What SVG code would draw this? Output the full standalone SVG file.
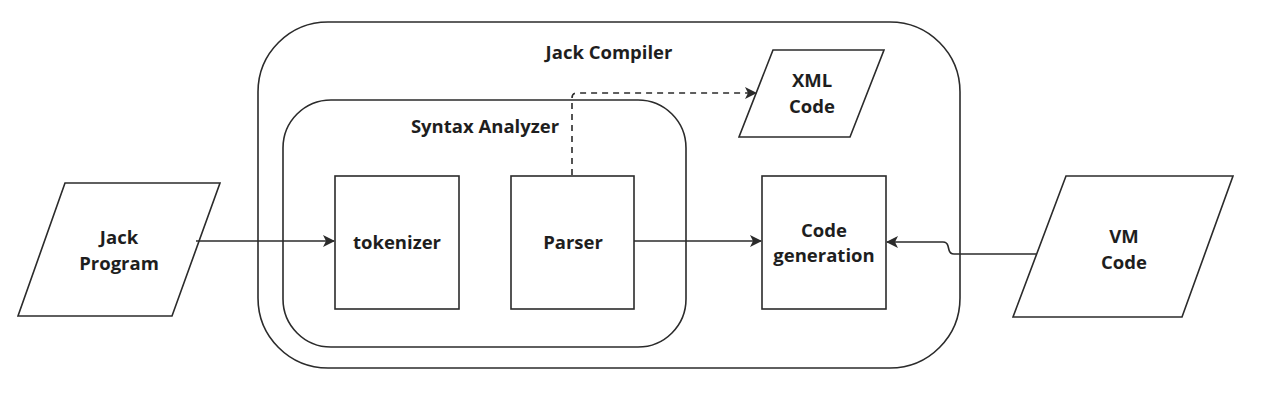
<svg xmlns="http://www.w3.org/2000/svg" width="1261" height="410" viewBox="0 0 1261 410">
<defs>
<style>
.s{fill:none;stroke:#2b2b2b;stroke-width:1.6}
.n{fill:#fff;stroke:#2b2b2b;stroke-width:1.6}
.t{font-family:"Open Sans","Noto Sans",sans-serif;font-weight:700;font-size:18.5px;fill:#1e1e1e;text-anchor:middle}
.c{fill:none;stroke:#2b2b2b;stroke-width:1.6}
.d{stroke-dasharray:6 5}
</style>
<marker id="ah" viewBox="0 0 12 12" refX="11" refY="6" markerWidth="12" markerHeight="12" markerUnits="userSpaceOnUse" orient="auto">
<path d="M0,0 L12,6 L0,12 L3,6 Z" fill="#2b2b2b"/>
</marker>
</defs>
<rect width="1261" height="410" fill="#fff"/>
<g id="jack-compiler">
<rect class="n" x="258" y="22" width="702" height="346" rx="70" ry="70"/>
<text class="t" x="609" y="59">Jack Compiler</text>
</g>
<g id="syntax-analyzer">
<rect class="n" x="283" y="100" width="403" height="247" rx="48" ry="48"/>
<text class="t" x="485" y="133">Syntax Analyzer</text>
</g>
<g id="tokenizer">
<rect class="n" x="335" y="176" width="124" height="133"/>
<text class="t" x="397" y="249">tokenizer</text>
</g>
<g id="parser">
<rect class="n" x="511" y="176" width="123" height="133"/>
<text class="t" x="573" y="249">Parser</text>
</g>
<g id="code-generation">
<rect class="n" x="762" y="176" width="124" height="133"/>
<text class="t" x="824" y="237">Code</text>
<text class="t" x="824" y="262">generation</text>
</g>
<g id="jack-program">
<polygon class="n" points="65,183 220,183 172,316 18,316"/>
<text class="t" x="119" y="244">Jack</text>
<text class="t" x="119" y="270">Program</text>
</g>
<g id="xml-code">
<polygon class="n" points="773,50 884,50 850,137 739,137"/>
<text class="t" x="812" y="87">XML</text>
<text class="t" x="812" y="113">Code</text>
</g>
<g id="vm-code">
<polygon class="n" points="1066,176 1233,176 1182,317 1013,317"/>
<text class="t" x="1124" y="243">VM</text>
<text class="t" x="1124" y="269">Code</text>
</g>
<g id="connectors">
<path class="c" d="M196,241 L334,241" marker-end="url(#ah)"/>
<path class="c" d="M634,241 L761,241" marker-end="url(#ah)"/>
<path class="c" d="M1036,254 L954,254 Q950,254 949,250 L948,246 Q947,242 943,242 L887,242" marker-end="url(#ah)"/>
<path class="c d" d="M572,175 L572,98 Q572,93 577,93 L756,93" marker-end="url(#ah)"/>
</g>
</svg>
